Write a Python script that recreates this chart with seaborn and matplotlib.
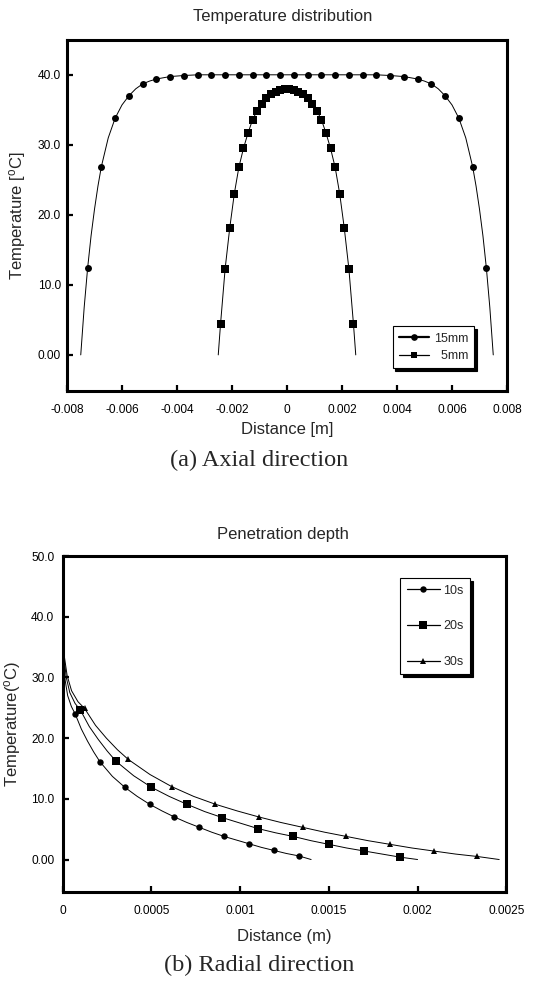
import numpy as np
import pandas as pd
import seaborn as sns
import matplotlib.pyplot as plt
from matplotlib.lines import Line2D

# ---- (a) axial direction: temperature vs distance ----
x15 = [-0.0075, -0.007375, -0.00725, -0.007125, -0.007, -0.006875, -0.00675, -0.0065, -0.00625,
       -0.006, -0.00575, -0.0055, -0.00525, -0.005, -0.00475, -0.00425, -0.00375, -0.00325,
       -0.00275, -0.00225, -0.00175, -0.00125, -0.00075, -0.00025,
       0.00025, 0.00075, 0.00125, 0.00175, 0.00225, 0.00275, 0.00325, 0.00375, 0.00425,
       0.00475, 0.005, 0.00525, 0.0055, 0.00575, 0.006, 0.00625, 0.0065, 0.00675,
       0.006875, 0.007, 0.007125, 0.00725, 0.007375, 0.0075]
t15 = [0.0, 6.8, 12.4, 17.0, 20.8, 24.1, 26.9, 31.0, 33.8,
       35.7, 37.0, 38.0, 38.7, 39.1, 39.4, 39.75, 39.9, 40.0,
       40.0, 40.0, 40.0, 40.0, 40.0, 40.0,
       40.0, 40.0, 40.0, 40.0, 40.0, 40.0, 40.0, 39.9, 39.75,
       39.4, 39.1, 38.7, 38.0, 37.0, 35.7, 33.8, 31.0, 26.9,
       24.1, 20.8, 17.0, 12.4, 6.8, 0.0]
mark15 = [2, 6, 8, 10, 12] + list(range(14, 34)) + [35, 37, 39, 41, 45]

x5 = [-0.0025, -0.002417, -0.00225, -0.002083, -0.001917, -0.00175, -0.001583, -0.001417,
      -0.00125, -0.001083, -0.000917, -0.00075, -0.000583, -0.000417, -0.00025, -0.000083,
      0.000083, 0.00025, 0.000417, 0.000583, 0.00075, 0.000917, 0.001083, 0.00125,
      0.001417, 0.001583, 0.00175, 0.001917, 0.002083, 0.00225, 0.002417, 0.0025]
t5 = [0.0, 4.4, 12.3, 18.1, 23.0, 26.8, 29.5, 31.7,
      33.6, 34.9, 35.9, 36.7, 37.3, 37.6, 37.9, 38.0,
      38.0, 37.9, 37.6, 37.3, 36.7, 35.9, 34.9, 33.6,
      31.7, 29.5, 26.8, 23.0, 18.1, 12.3, 4.4, 0.0]
mark5 = list(range(1, 31))

xticks_a = [-0.008, -0.006, -0.004, -0.002, 0, 0.002, 0.004, 0.006, 0.008]
xlabels_a = ['-0.008', '-0.006', '-0.004', '-0.002', '0', '0.002', '0.004', '0.006', '0.008']
yticks_a = [0, 10, 20, 30, 40]
ylabels_a = ['0.00', '10.0', '20.0', '30.0', '40.0']

# ---- (b) radial direction: penetration depth ----
x10 = [0, 0.000005, 0.000014, 0.000028, 0.000049, 0.00007, 0.000105, 0.00014, 0.000175,
       0.00021, 0.00028, 0.00035, 0.00042, 0.00049, 0.00056, 0.00063, 0.0007, 0.00077,
       0.00084, 0.00091, 0.00098, 0.00105, 0.00112, 0.00119, 0.00126, 0.00133, 0.0014]
t10 = [38.2, 33.0, 29.5, 27.0, 25.2, 24.0, 21.5, 19.5, 17.7,
       16.1, 13.7, 11.9, 10.4, 9.1, 8.0, 7.0, 6.1, 5.3,
       4.5, 3.8, 3.2, 2.6, 2.0, 1.5, 1.0, 0.6, 0.0]
x20 = [0, 0.000007, 0.00002, 0.00004, 0.00007, 0.0001, 0.00015, 0.0002, 0.00025,
       0.0003, 0.0004, 0.0005, 0.0006, 0.0007, 0.0008, 0.0009, 0.001, 0.0011,
       0.0012, 0.0013, 0.0014, 0.0015, 0.0016, 0.0017, 0.0018, 0.0019, 0.002]
t20 = [38.2, 33.3, 30.0, 27.5, 25.7, 24.6, 21.9, 19.8, 17.9,
       16.2, 13.8, 11.9, 10.4, 9.1, 7.9, 6.9, 6.0, 5.1,
       4.4, 3.8, 3.1, 2.5, 1.9, 1.4, 0.9, 0.4, 0.0]
x30 = [0, 0.000009, 0.000025, 0.00005, 0.000086, 0.000123, 0.000185, 0.000246, 0.000308,
       0.000369, 0.000492, 0.000615, 0.000738, 0.000861, 0.000984, 0.001107, 0.00123, 0.001353,
       0.001476, 0.001599, 0.001722, 0.001845, 0.001968, 0.002091, 0.002214, 0.002337, 0.00246]
t30 = [38.2, 33.5, 30.3, 27.8, 26.0, 24.9, 22.1, 20.0, 18.1,
       16.5, 14.0, 12.0, 10.4, 9.1, 8.0, 7.0, 6.1, 5.3,
       4.5, 3.8, 3.1, 2.5, 1.9, 1.4, 0.9, 0.5, 0.0]
mark_b = [5] + list(range(9, 26, 2))

xticks_b = [0, 0.0005, 0.001, 0.0015, 0.002, 0.0025]
xlabels_b = ['0', '0.0005', '0.001', '0.0015', '0.002', '0.0025']
yticks_b = [0, 10, 20, 30, 40, 50]
ylabels_b = ['0.00', '10.0', '20.0', '30.0', '40.0', '50.0']

sns.set_style('ticks')
plt.rcParams['font.family'] = ['Liberation Sans', 'DejaVu Sans']
plt.rcParams['mathtext.fontset'] = 'custom'
plt.rcParams['mathtext.rm'] = 'Liberation Sans'

fig = plt.figure(figsize=(5.6, 9.81), dpi=100)
W, H = 560, 981
ax1 = fig.add_axes([67 / W, 1 - 391.3 / H, 440 / W, 351.5 / H])
ax2 = fig.add_axes([62.7 / W, 1 - 891.7 / H, 443.6 / W, 335.7 / H])


def style_axes(ax, ypad):
    for s in ax.spines.values():
        s.set_linewidth(2.2)
        s.set_color('black')
        s.set_visible(True)
    ax.tick_params(direction='in', length=4, width=1.6, colors='black',
                   labelsize=8.6, top=False, right=False)
    ax.tick_params(axis='x', pad=9.5)
    ax.tick_params(axis='y', pad=ypad)
    ax.grid(False)


line_kw = dict(color='black', linewidth=0.7, sort=False, estimator=None, legend=False,
               markeredgewidth=0, markeredgecolor='black')

# top panel
sns.lineplot(x=x15, y=t15, ax=ax1, marker='o', markersize=5.0, markevery=mark15, **line_kw)
sns.lineplot(x=x5, y=t5, ax=ax1, marker='s', markersize=5.2, markevery=mark5, **line_kw)
style_axes(ax1, 4.5)
ax1.set_xlim(-0.008, 0.008)
ax1.set_ylim(-5.2, 45)
ax1.set_xticks(xticks_a, xlabels_a)
ax1.set_yticks(yticks_a, ylabels_a)
ax1.set_xlabel('Distance [m]', fontsize=12)
ax1.set_ylabel(r'Temperature [$\mathregular{^o}$C]', fontsize=12)
ax1.xaxis.set_label_coords(0.5, -0.088)
ax1.yaxis.set_label_coords(-0.089, 0.5)
h_a = [Line2D([], [], color='black', lw=1.6, marker='o', ms=4.8, mew=0),
       Line2D([], [], color='black', lw=0.9, marker='s', ms=4.8, mew=0)]
leg = ax1.legend(h_a, ['15mm', '  5mm'], loc='upper left', bbox_to_anchor=(0.74, 0.185),
                 borderaxespad=0, fontsize=9, handlelength=2.4, handletextpad=0.4,
                 labelspacing=0.45, borderpad=0.5, fancybox=False, framealpha=1,
                 edgecolor='black', shadow={'color': 'black', 'alpha': 1})
leg.get_frame().set_linewidth(0.8)

# bottom panel
sns.lineplot(x=x10, y=t10, ax=ax2, marker='o', markersize=4.6, markevery=mark_b, **line_kw)
sns.lineplot(x=x20, y=t20, ax=ax2, marker='s', markersize=5.4, markevery=mark_b, **line_kw)
sns.lineplot(x=x30, y=t30, ax=ax2, marker='^', markersize=4.8, markevery=mark_b, **line_kw)
style_axes(ax2, 6.0)
ax2.set_xlim(0, 0.0025)
ax2.set_ylim(-5.3, 50)
ax2.set_xticks(xticks_b, xlabels_b)
ax2.set_yticks(yticks_b, ylabels_b)
ax2.set_xlabel('Distance (m)', fontsize=12)
ax2.set_ylabel(r'Temperature($\mathregular{^o}$C)', fontsize=12)
ax2.xaxis.set_label_coords(0.5, -0.11)
ax2.yaxis.set_label_coords(-0.09, 0.5)
h_b = [Line2D([], [], color='black', lw=0.9, marker='o', ms=4.6, mew=0),
       Line2D([], [], color='black', lw=0.9, marker='s', ms=5.4, mew=0),
       Line2D([], [], color='black', lw=0.9, marker='^', ms=4.8, mew=0)]
leg2 = ax2.legend(h_b, ['10s', '20s', '30s'], loc='upper left', bbox_to_anchor=(0.761, 0.933),
                  borderaxespad=0, fontsize=9, handlelength=2.7, handletextpad=0.25,
                  labelspacing=1.9, borderpad=0.5, fancybox=False, framealpha=1,
                  edgecolor='black', shadow={'color': 'black', 'alpha': 1})
leg2.get_frame().set_linewidth(0.8)

# titles and captions
fig.text(283 / W, 1 - 16.7 / H, 'Temperature distribution', ha='center', va='center', fontsize=12)
fig.text(283 / W, 1 - 535 / H, 'Penetration depth', ha='center', va='center', fontsize=12)
fig.text(259 / W, 1 - 460 / H, '(a) Axial direction', ha='center', va='center',
         fontsize=17.5, family='Liberation Serif')
fig.text(259 / W, 1 - 965 / H, '(b) Radial direction', ha='center', va='center',
         fontsize=17.5, family='Liberation Serif')

fig.savefig('out.png', dpi=100, facecolor='white')
